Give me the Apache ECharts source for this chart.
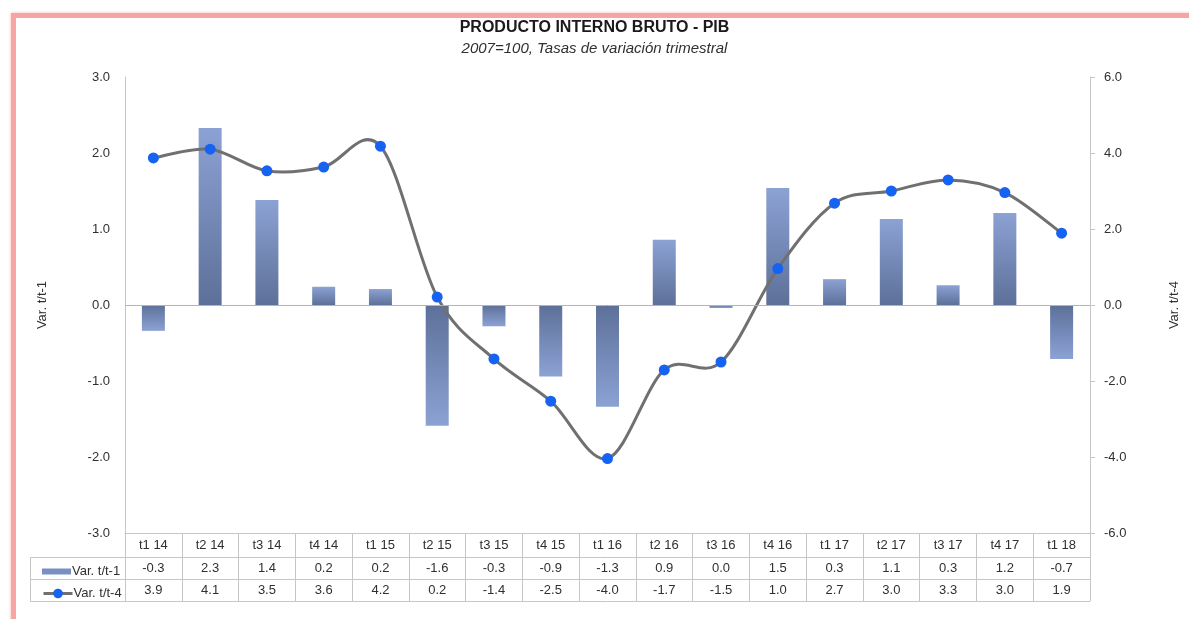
<!DOCTYPE html>
<html>
<head>
<meta charset="utf-8">
<script src="https://cdn.jsdelivr.net/npm/echarts@6/dist/echarts.min.js"></script>
<style>
  html, body { margin: 0; padding: 0; background: #ffffff; overflow: hidden; }
  #frame { position: absolute; left: 11px; top: 13px; width: 1200px; height: 640px;
           border: 5px solid #f6a4a4; box-shadow: 0 0 3px #f8b8b8; box-sizing: border-box; }
  #chart { position: absolute; left: 0; top: 0; width: 1189px; height: 619px; }
</style>
</head>
<body>
<div id="frame"></div>
<div id="chart"></div>
<script>
const categories = ['t1 14','t2 14','t3 14','t4 14','t1 15','t2 15','t3 15','t4 15','t1 16','t2 16','t3 16','t4 16','t1 17','t2 17','t3 17','t4 17','t1 18'];
const varT1 = [-0.34, 2.33, 1.38, 0.24, 0.21, -1.59, -0.28, -0.94, -1.34, 0.86, -0.04, 1.54, 0.34, 1.13, 0.26, 1.21, -0.71];
const varT4 = [3.87, 4.10, 3.53, 3.63, 4.18, 0.21, -1.42, -2.53, -4.04, -1.71, -1.50, 0.96, 2.68, 3.00, 3.29, 2.96, 1.89];
const leftTicks = [-3, -2, -1, 0, 1, 2, 3];
const rightTicks = [-6, -4, -2, 0, 2, 4, 6];

const FONT = '"Liberation Sans Narrow", "Liberation Sans", Arial, sans-serif';
const GRID = '#c6c6c6';
const LINE_COLOR = '#707070';
const fmt = v => { const s = Number(v).toFixed(1); return s === '-0.0' ? '0.0' : s; };

const barLight = '#8ca2d4', barDark = '#5d7099';
function barColor(p) {
  const v = p.value;
  return new echarts.graphic.LinearGradient(0, 0, 0, 1, v >= 0
    ? [{offset: 0, color: barLight}, {offset: 1, color: barDark}]
    : [{offset: 0, color: barDark}, {offset: 1, color: barLight}]);
}

// Smooth curve (Catmull-Rom style, like spreadsheet "smoothed line") through points placed by the axes
function renderCurve(params, api) {
  if (params.dataIndex !== 0) return null;
  const pts = varT4.map((v, i) => api.coord([i, v]));
  const n = pts.length;
  const children = [];
  for (let i = 0; i < n - 1; i++) {
    const p0 = pts[Math.max(i - 1, 0)], p1 = pts[i], p2 = pts[i + 1], p3 = pts[Math.min(i + 2, n - 1)];
    children.push({
      type: 'bezierCurve',
      shape: {
        x1: p1[0], y1: p1[1], x2: p2[0], y2: p2[1],
        cpx1: p1[0] + (p2[0] - p0[0]) / 6, cpy1: p1[1] + (p2[1] - p0[1]) / 6,
        cpx2: p2[0] - (p3[0] - p1[0]) / 6, cpy2: p2[1] - (p3[1] - p1[1]) / 6
      },
      style: {stroke: LINE_COLOR, lineWidth: 3, fill: null, lineCap: 'round'}
    });
  }
  return {type: 'group', children: children};
}

const chart = echarts.init(document.getElementById('chart'), null, {renderer: 'canvas'});

function tableAxis(offset, values) {
  return {
    type: 'category', data: categories, position: 'bottom', offset: offset,
    gridIndex: 0,
    axisLine: {show: true, onZero: false, lineStyle: {color: GRID, width: 1}},
    axisTick: {show: false},
    axisLabel: values ? {
      interval: 0, margin: 5, fontFamily: FONT, fontSize: 13, color: '#303030',
      formatter: (v, i) => fmt(values[i])
    } : {show: false},
    splitLine: {show: false}
  };
}

const option = {
  animation: false,
  backgroundColor: 'transparent',
  title: {
    text: 'PRODUCTO INTERNO BRUTO - PIB',
    subtext: '2007=100, Tasas de variación trimestral',
    left: 'center', top: 15, itemGap: 5,
    textStyle: {fontFamily: FONT, fontSize: 16, fontWeight: 'bold', color: '#1a1a1a'},
    subtextStyle: {fontFamily: FONT, fontSize: 15, fontStyle: 'italic', color: '#303030'}
  },
  grid: {left: 125, right: 97, top: 77, bottom: 86, containLabel: false},
  legend: [
    {
      data: [{name: 'Var. t/t-1', icon: 'rect', itemStyle: {color: '#7a90c2'}}],
      left: 37, top: 560, itemWidth: 29, itemHeight: 6, itemGap: 2,
      textStyle: {fontFamily: FONT, fontSize: 13, color: '#303030', padding: [0, 0, 0, -4]},
      selectedMode: false
    },
    {
      data: [{name: 'Var. t/t-4', lineStyle: {color: LINE_COLOR, width: 3, opacity: 1}}],
      left: 37, top: 582, itemWidth: 29, itemHeight: 12, itemGap: 2,
      textStyle: {fontFamily: FONT, fontSize: 13, color: '#303030', padding: [0, 0, 0, -4]},
      selectedMode: false
    }
  ],
  xAxis: [
    {
      type: 'category', data: categories, position: 'bottom', offset: 0,
      axisLine: {show: true, onZero: false, lineStyle: {color: GRID, width: 1}},
      axisTick: {show: true, length: 68, alignWithLabel: false, interval: 0, lineStyle: {color: GRID}},
      axisLabel: {interval: 0, margin: 6, fontFamily: FONT, fontSize: 13, color: '#303030'},
      splitLine: {show: false}
    },
    tableAxis(24, varT1),
    tableAxis(46, varT4),
    tableAxis(68, null)
  ],
  yAxis: [
    {
      type: 'value', min: -3, max: 3, interval: 1, position: 'left',
      name: 'Var. t/t-1', nameLocation: 'middle', nameRotate: 90, nameGap: 76,
      nameTextStyle: {fontFamily: FONT, fontSize: 13, color: '#303030'},
      axisLine: {show: true, lineStyle: {color: GRID}},
      axisTick: {show: false},
      axisLabel: {margin: 15, fontFamily: FONT, fontSize: 13, color: '#303030',
                  customValues: leftTicks, formatter: v => fmt(v)},
      splitLine: {show: false}
    },
    {
      type: 'value', min: -6, max: 6, interval: 2, position: 'right',
      name: 'Var. t/t-4', nameLocation: 'middle', nameRotate: 90, nameGap: 78,
      nameTextStyle: {fontFamily: FONT, fontSize: 13, color: '#303030'},
      axisLine: {show: true, lineStyle: {color: GRID}},
      axisTick: {show: true, length: 5, lineStyle: {color: GRID}},
      axisLabel: {margin: 14, fontFamily: FONT, fontSize: 13, color: '#303030',
                  customValues: rightTicks, formatter: v => fmt(v)},
      splitLine: {show: false}
    }
  ],
  graphic: [
    {type: 'polyline', silent: true, shape: {points: [[125, 557.5], [30.5, 557.5], [30.5, 601.5], [125, 601.5]]},
     style: {stroke: GRID, fill: null, lineWidth: 1}},
    {type: 'line', silent: true, shape: {x1: 30.5, y1: 579.5, x2: 125, y2: 579.5},
     style: {stroke: GRID, lineWidth: 1}}
  ],
  series: [
    {
      name: 'Var. t/t-1', type: 'bar', data: varT1, xAxisIndex: 0, yAxisIndex: 0,
      barWidth: 23,
      itemStyle: {color: barColor},
      markLine: {
        silent: true, symbol: 'none', label: {show: false},
        lineStyle: {color: '#b4b4b4', width: 1, type: 'solid'},
        data: [{yAxis: 0}]
      },
      z: 2
    },
    {
      name: 'curve', type: 'custom', coordinateSystem: 'cartesian2d',
      xAxisIndex: 0, yAxisIndex: 1,
      data: varT4.map((v, i) => [i, v]),
      renderItem: renderCurve, silent: true, z: 3
    },
    {
      name: 'Var. t/t-4', type: 'line', data: varT4, xAxisIndex: 0, yAxisIndex: 1,
      lineStyle: {color: LINE_COLOR, width: 3, opacity: 0},
      itemStyle: {color: '#1563f0'},
      symbol: 'circle', symbolSize: 11, showSymbol: true,
      z: 4
    }
  ]
};
chart.setOption(option);
</script>
</body>
</html>
